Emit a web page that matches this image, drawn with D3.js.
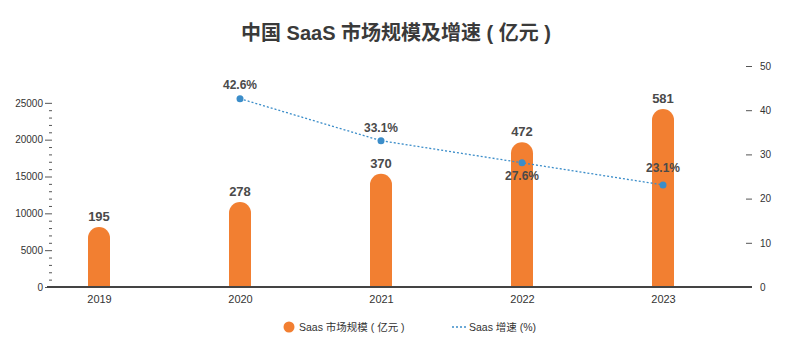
<!DOCTYPE html>
<html>
<head>
<meta charset="utf-8">
<script src="https://cdn.jsdelivr.net/npm/d3@7"></script>
<style>
  html, body { margin: 0; padding: 0; background: #fff; }
  svg { display: block; font-family: "Liberation Sans", Arial, "Noto Sans CJK SC", sans-serif; }
</style>
</head>
<body>
<svg id="chart" width="801" height="337"></svg>
<script>
// ---- data ----
const years = ["2019", "2020", "2021", "2022", "2023"];
const marketBars = [8150, 11530, 15370, 19640, 24150];      // bar heights on left axis
const marketLabels = ["195", "278", "370", "472", "581"];   // labels shown above bars
const growthYears = ["2020", "2021", "2022", "2023"];
const growthValues = [42.6, 33.1, 28.1, 23.1];               // plotted on right axis
const growthLabels = ["42.6%", "33.1%", "27.6%", "23.1%"];
const leftTicks = [0, 5000, 10000, 15000, 20000, 25000];
const rightTicks = [0, 10, 20, 30, 40, 50];
const title = "中国 SaaS 市场规模及增速 ( 亿元 )";
const legendLabels = ["Saas 市场规模 ( 亿元 )", "Saas 增速 (%)"];

// ---- styles ----
const ORANGE = "#f27f31";
const BLUE = "#3b8dc9";
const TEXT = "#4a4a4a";

const svg = d3.select("#chart");

const x = d3.scalePoint().domain(years).range([99, 663]);
const yL = d3.scaleLinear().domain([0, 30000]).range([287, 66]);
const yR = d3.scaleLinear().domain([0, 50]).range([287, 66]);

// title
svg.append("text")
  .attr("x", 396).attr("y", 40)
  .attr("text-anchor", "middle")
  .attr("font-size", 20).attr("font-weight", "bold")
  .attr("fill", "#3a3a3a")
  .text(title);

// left axis (major + minor ticks)
const minorTicks = d3.range(0, 25001, 1000).filter(v => v % 5000 !== 0);
const gMinor = svg.append("g").attr("transform", "translate(52,0)")
  .call(d3.axisLeft(yL).tickValues(minorTicks).tickSize(3).tickFormat(""));
gMinor.select(".domain").remove();
gMinor.selectAll("line").attr("stroke", "#555");

const gLeft = svg.append("g").attr("transform", "translate(52,0)")
  .call(d3.axisLeft(yL).tickValues(leftTicks).tickSize(7).tickPadding(2).tickFormat(d3.format("d")));
gLeft.select(".domain").remove();
gLeft.selectAll("line").attr("stroke", "#555");
gLeft.selectAll("text").attr("font-size", 10).attr("fill", "#333").attr("font-family", "Liberation Sans, Arial, sans-serif");

// right axis
const gRight = svg.append("g").attr("transform", "translate(746,0)")
  .call(d3.axisRight(yR).tickValues(rightTicks).tickSize(6).tickPadding(8));
gRight.select(".domain").remove();
gRight.selectAll("line").attr("stroke", "#555");
gRight.selectAll("text").attr("font-size", 10).attr("fill", "#333").attr("font-family", "Liberation Sans, Arial, sans-serif");

// bars with rounded tops
const bw = 22, r = bw / 2;
svg.append("g").selectAll("path")
  .data(years.map((d, i) => ({ year: d, v: marketBars[i], label: marketLabels[i] })))
  .join("path")
  .attr("fill", ORANGE)
  .attr("d", d => {
    const cx = x(d.year), top = yL(d.v), base = yL(0);
    const x0 = cx - r, x1 = cx + r;
    return `M${x0},${base} L${x0},${top + r} A${r},${r} 0 0 1 ${x1},${top + r} L${x1},${base} Z`;
  });

// bar labels
svg.append("g").selectAll("text")
  .data(years.map((d, i) => ({ year: d, v: marketBars[i], label: marketLabels[i] })))
  .join("text")
  .attr("x", d => x(d.year))
  .attr("y", d => yL(d.v) - 6)
  .attr("text-anchor", "middle")
  .attr("font-size", 13).attr("font-weight", "bold")
  .attr("fill", TEXT)
  .text(d => d.label);

// x baseline axis
const gX = svg.append("g").attr("transform", "translate(0,287)")
  .call(d3.axisBottom(x).tickSize(0).tickPadding(8));
gX.select(".domain").remove();
gX.selectAll("text").attr("font-size", 11).attr("fill", "#333");
svg.append("line")
  .attr("x1", 47).attr("x2", 752).attr("y1", 287).attr("y2", 287)
  .attr("stroke", "#444").attr("stroke-width", 2);

// growth line
const gData = growthYears.map((d, i) => ({ year: d, v: growthValues[i], label: growthLabels[i] }));
svg.append("path")
  .datum(gData)
  .attr("fill", "none")
  .attr("stroke", BLUE)
  .attr("stroke-width", 1.3)
  .attr("stroke-dasharray", "2,2")
  .attr("d", d3.line().x(d => x(d.year)).y(d => yR(d.v)));

svg.append("g").selectAll("circle")
  .data(gData).join("circle")
  .attr("cx", d => x(d.year)).attr("cy", d => yR(d.v))
  .attr("r", 3.5).attr("fill", BLUE);

const labelOffset = { "2020": -10, "2021": -9, "2022": 17, "2023": -13 };
svg.append("g").selectAll("text")
  .data(gData).join("text")
  .attr("x", d => x(d.year))
  .attr("y", d => yR(d.v) + labelOffset[d.year])
  .attr("text-anchor", "middle")
  .attr("font-size", 12).attr("font-weight", "bold")
  .attr("fill", TEXT)
  .text(d => d.label);

// legend
const lg = svg.append("g");
lg.append("circle").attr("cx", 289).attr("cy", 327).attr("r", 5.5).attr("fill", ORANGE);
lg.append("text").attr("x", 299).attr("y", 331).attr("font-size", 10.5).attr("fill", "#333").text(legendLabels[0]);
lg.append("line").attr("x1", 452).attr("x2", 466).attr("y1", 327).attr("y2", 327)
  .attr("stroke", BLUE).attr("stroke-width", 1.3).attr("stroke-dasharray", "2,2");
lg.append("text").attr("x", 469).attr("y", 331).attr("font-size", 10.5).attr("fill", "#333").text(legendLabels[1]);
</script>
</body>
</html>
